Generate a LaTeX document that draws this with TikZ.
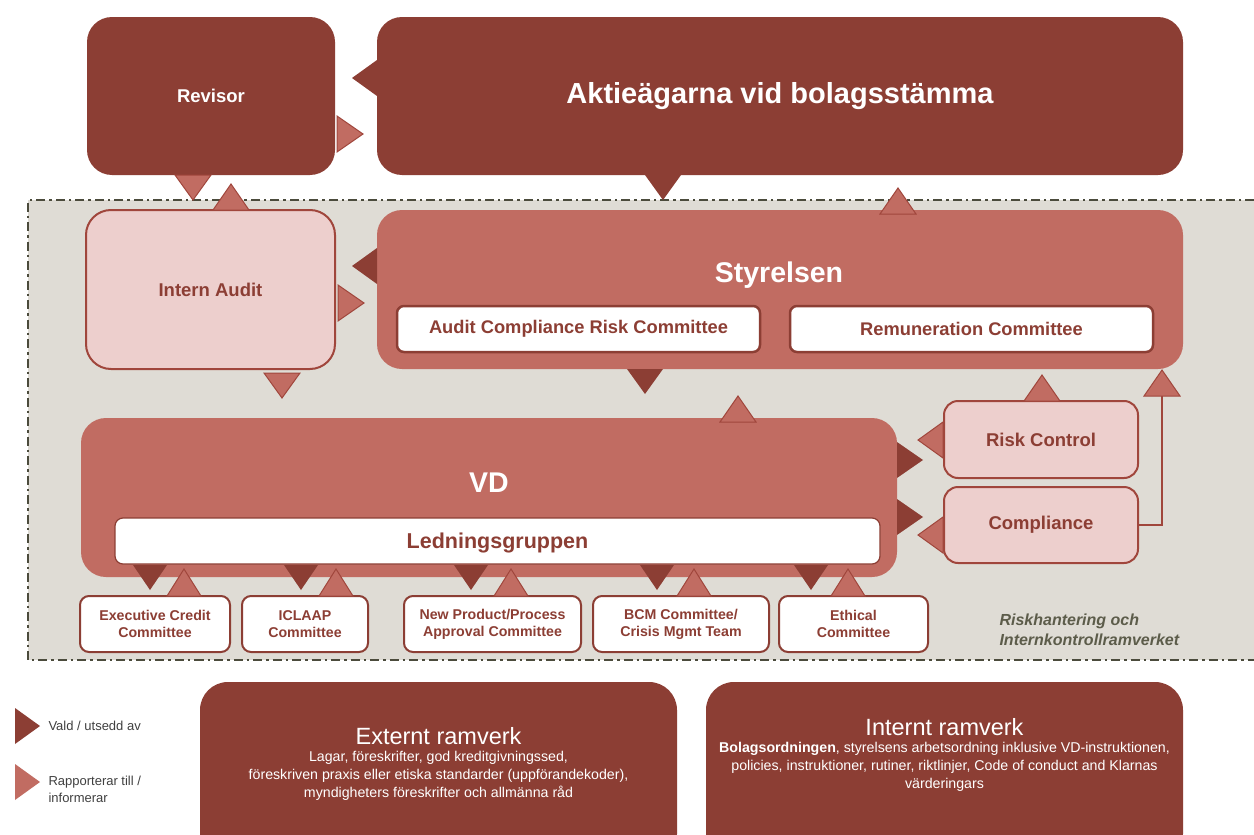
\documentclass[tikz,border=0pt]{standalone}
\usepackage{fontspec}
\setmainfont{Liberation Sans}
\definecolor{dk}{RGB}{140,62,52}
\definecolor{md}{RGB}{193,108,98}
\definecolor{lt}{RGB}{237,207,205}
\definecolor{bgc}{RGB}{223,220,213}
\definecolor{frm}{RGB}{75,75,60}
\definecolor{bord}{RGB}{160,70,60}
\definecolor{gtx}{RGB}{92,92,74}
\definecolor{legtx}{RGB}{64,64,64}
\tikzset{
  tdown/.pic={\path[pic actions] (0,0) -- (-18,-25) -- (18,-25) -- cycle;},
  tup/.pic={\path[pic actions] (0,0) -- (-18,26) -- (18,26) -- cycle;},
  tleft/.pic={\path[pic actions] (0,0) -- (25,-18) -- (25,18) -- cycle;},
  tright/.pic={\path[pic actions] (0,0) -- (-26,-18) -- (-26,18) -- cycle;},
  sdown/.pic={\path[pic actions] (0,0) -- (-17,-25) -- (17,-25) -- cycle;},
  sup/.pic={\path[pic actions] (0,0) -- (-17,27) -- (17,27) -- cycle;},
  dkt/.style={fill=dk},
  mdt/.style={fill=md, draw=bord, line width=1pt, line join=miter},
  bigbox/.style={rounded corners=25pt, inner sep=0pt},
  dkbox/.style={bigbox, fill=dk, text=white, font=\fontsize{18.5}{22}\selectfont\bfseries},
  ltbox/.style={bigbox, fill=lt, draw=bord, line width=2pt, text=dk, font=\fontsize{18.5}{22}\selectfont\bfseries},
  mdbox/.style={bigbox, fill=md},
  whbox/.style={rounded corners=7pt, fill=white, draw=dk, line width=2.5pt, inner sep=0pt, text=dk, font=\fontsize{18.3}{22}\selectfont\bfseries},
  combox/.style={rounded corners=9pt, fill=white, draw=dk, line width=2pt, inner sep=0pt, minimum height=56pt, text=dk, align=center, font=\fontsize{14.2}{17}\selectfont\bfseries},
  smbox/.style={bigbox, fill=lt, draw=bord, line width=2pt, text=dk, font=\fontsize{18.5}{22}\selectfont\bfseries, rounded corners=14pt},
  frbox/.style={rounded corners=28pt, fill=dk, inner sep=0pt},
  bodytx/.style={text=white, align=center, font=\fontsize{14.2}{18}\selectfont},
}
\begin{document}
\begin{tikzpicture}[x=1pt,y=-1pt]
\useasboundingbox (0,0) rectangle (1254,835);
\fill[white] (0,0) rectangle (1254,835);

% risk framework area
\fill[bgc] (28,200) rectangle (1254,660);
\draw[frm, line width=2pt, dash pattern=on 9pt off 4pt on 2.5pt off 4pt]
  (1254,200) -- (28,200) -- (28,660) -- (1254,660);

% top boxes
\node[dkbox, minimum width=248pt, minimum height=158pt] (rev) at (211,96) {Revisor};
\node[dkbox, minimum width=806pt, minimum height=158pt, font=\fontsize{29}{33}\selectfont\bfseries] (akt) at (780,96) {Aktieägarna vid bolagsstämma};

% second row
\node[ltbox, minimum width=249pt, minimum height=159pt] (ia) at (210.5,289.5) {Intern Audit};
\node[mdbox, minimum width=806pt, minimum height=159pt] (sty) at (780,289.5) {};
\node[text=white, font=\fontsize{28.5}{32}\selectfont\bfseries] (styt) at (779,275) {Styrelsen};
\node[whbox, minimum width=363pt, minimum height=46pt] (acrc) at (578.5,329) {Audit Compliance Risk Committee};
\node[whbox, minimum width=363pt, minimum height=46pt] (rem) at (971.5,329) {Remuneration Committee};

% VD
\node[mdbox, minimum width=816pt, minimum height=159pt] (vd) at (489,497.5) {};
\node[text=white, font=\fontsize{28.5}{32}\selectfont\bfseries] (vdt) at (489,483) {VD};
\node[whbox, line width=1.2pt, rounded corners=8pt, minimum width=765pt, minimum height=46pt, font=\fontsize{21.5}{24}\selectfont\bfseries] (lg) at (497.5,541) {};
\node[text=dk, font=\fontsize{21.5}{24}\selectfont\bfseries] (lgt) at (497.5,543) {Ledningsgruppen};

% risk control / compliance
\node[smbox, minimum width=194pt, minimum height=77pt] (rc) at (1041,439.5) {Risk Control};
\node[smbox, minimum width=194pt, minimum height=76pt] (comp) at (1041,525) {Compliance};

% committees
\node[combox, minimum width=150pt] (c1) at (155,624) {Executive Credit\\Committee};
\node[combox, minimum width=126pt] (c2) at (305,624) {ICLAAP\\Committee};
\node[combox, minimum width=177pt] (c3) at (492.5,624) {New Product/Process\\Approval Committee};
\node[combox, minimum width=176pt] (c4) at (681,624) {BCM Committee/\\Crisis Mgmt Team};
\node[combox, minimum width=149pt] (c5) at (853.5,624) {Ethical\\Committee};

\node[anchor=west, text=gtx, align=left, font=\fontsize{16}{19.5}\selectfont\bfseries\itshape] (rk) at (996,630) {Riskhantering och\\Internkontrollramverket};

% triangles
\pic[dkt] at (352,78) {tleft};
\pic[mdt] at (363,134) {tright};
\pic[mdt] at (193,200) {tdown};
\pic[mdt] at (231,184) {tup};
\pic[dkt] at (663,200) {tdown};
\pic[mdt] at (898,188) {tup};
\pic[dkt] at (352,266) {tleft};
\pic[mdt] at (364,303) {tright};
\pic[mdt] at (282,398) {tdown};
\pic[dkt] at (645,394) {tdown};
\pic[mdt] at (738,396) {tup};
\pic[dkt] at (923,460) {tright};
\pic[dkt] at (923,517) {tright};
\pic[mdt] at (918,440) {tleft};
\pic[mdt] at (918,535) {tleft};
\pic[mdt] at (1042,375) {tup};

\coordinate (cup) at (1162,396);
\draw[bord, line width=2pt] (comp.east) -| (cup);
\pic[mdt] at (1162,370) {tup};

\foreach \a/\b in {150/184,301/336,471/511,657/694,811/848}{
  \pic[dkt] at (\a,590) {sdown};
  \pic[mdt] at (\b,569) {sup};
}

% legend
\fill[dk] (15,708) -- (40,726) -- (15,744) -- cycle;
\node[anchor=west, text=legtx, font=\fontsize{13}{15}\selectfont] (l1) at (45,726) {Vald / utsedd av};
\fill[md] (15,764) -- (40,782) -- (15,800) -- cycle;
\node[anchor=west, text=legtx, align=left, font=\fontsize{13}{17}\selectfont] (l2) at (45,789) {Rapporterar till /\\informerar};

% frameworks
\node[frbox, minimum width=477pt, minimum height=180pt] (ext) at (438.5,772) {};
\node[text=white, font=\fontsize{23.5}{26}\selectfont] (extt) at (438.5,736) {Externt ramverk};
\node[bodytx] (extb) at (438.5,776) {Lagar, föreskrifter, god kreditgivningssed,\\föreskriven praxis eller etiska standarder (uppförandekoder),\\myndigheters föreskrifter och allmänna råd};

\node[frbox, minimum width=477pt, minimum height=180pt] (int) at (944.5,772) {};
\node[text=white, font=\fontsize{23.5}{26}\selectfont] (intt) at (944.5,727) {Internt ramverk};
\node[bodytx] (intb) at (944.5,767) {\textbf{Bolagsordningen}, styrelsens arbetsordning inklusive VD-instruktionen,\\policies, instruktioner, rutiner, riktlinjer, Code of conduct and Klarnas\\värderingars};
\end{tikzpicture}
\end{document}
